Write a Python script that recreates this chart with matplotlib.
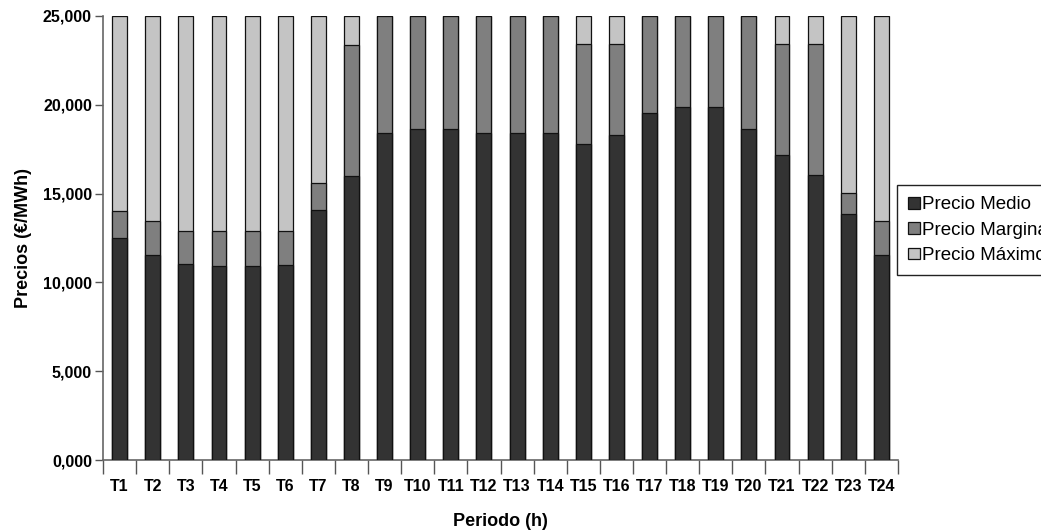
import matplotlib
matplotlib.use("Agg")
import matplotlib.pyplot as plt
import numpy as np

periodos = [f"T{i}" for i in range(1, 25)]
precio_medio = [12.48, 11.52, 11.02, 10.94, 10.94, 11.00, 14.06, 15.99, 18.43, 18.62,
                18.62, 18.43, 18.43, 18.43, 17.77, 18.30, 19.56, 19.89, 19.89, 18.62,
                17.17, 16.07, 13.85, 11.54]
precio_marginal = [14.04, 13.46, 12.89, 12.89, 12.89, 12.89, 15.60, 23.37, 25.00, 25.00,
                   25.00, 25.00, 25.00, 25.00, 23.40, 23.40, 25.00, 25.00, 25.00, 25.00,
                   23.40, 23.40, 15.05, 13.46]
precio_maximo = [25.00] * 24
yticks = [0, 5, 10, 15, 20, 25]

plt.rcParams['font.family'] = ['Liberation Sans', 'DejaVu Sans']

fig = plt.figure(figsize=(10.41, 5.31), dpi=100)
ax = fig.add_axes([0.099, 0.1337, 0.7636, 0.8363])

x = np.arange(len(periodos))
w = 0.45
b3 = ax.bar(x, precio_maximo, w, color='#c4c4c4', edgecolor='#111111', linewidth=0.9, label='Precio Máximo', zorder=2)
b2 = ax.bar(x, precio_marginal, w, color='#7f7f7f', edgecolor='#111111', linewidth=0.9, label='Precio Marginal', zorder=3)
b1 = ax.bar(x, precio_medio, w, color='#333333', edgecolor='#111111', linewidth=0.9, label='Precio Medio', zorder=4)

ax.set_xlim(-0.5, len(periodos) - 0.5)
ax.set_ylim(0, 25)
ax.set_xticks(x)
ax.set_xticklabels(periodos, fontsize=11.5, fontweight='bold')
ax.set_xticks(np.arange(len(periodos) + 1) - 0.5, minor=True)
ax.tick_params(axis='x', which='major', length=0, pad=14)
ax.tick_params(axis='x', which='minor', length=10, width=1.0, color='#555555')
ax.set_yticks(yticks)
ax.set_yticklabels([f"{v:.3f}".replace('.', ',') for v in yticks], fontsize=11.5, fontweight='bold')
ax.tick_params(axis='y', length=6, width=1.0, color='#555555', pad=2)

for s in ['top', 'right']:
    ax.spines[s].set_visible(False)
for s in ['left', 'bottom']:
    ax.spines[s].set_color('#666666')
    ax.spines[s].set_linewidth(1.2)

ax.set_ylabel('Precios (€/MWh)', fontsize=13, fontweight='bold', labelpad=8)
ax.set_xlabel('Periodo (h)', fontsize=13, fontweight='bold', labelpad=13)

leg = fig.legend(handles=[b1, b2, b3], loc='upper left', bbox_to_anchor=(0.8617, 0.6516),
                 fontsize=13.5, frameon=True, fancybox=False, framealpha=1,
                 edgecolor='#222222', handlelength=0.6, handleheight=0.6,
                 handletextpad=0.15, labelspacing=0.45, borderpad=0.6, borderaxespad=0)
leg.get_frame().set_linewidth(1.0)

fig.savefig('out.png', dpi=100)
